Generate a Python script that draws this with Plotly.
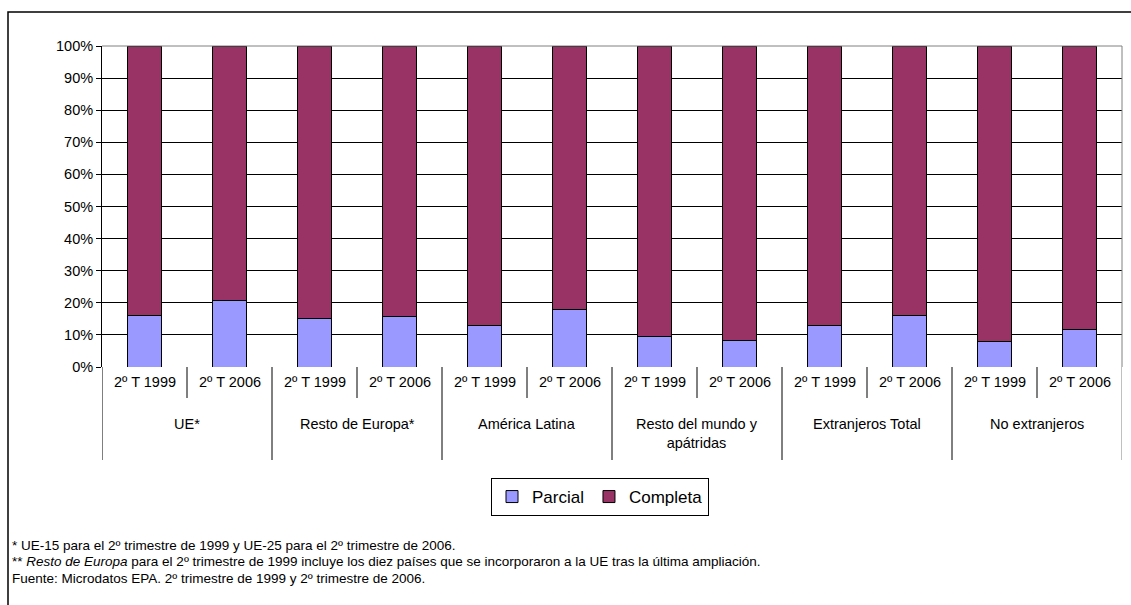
import plotly.graph_objects as go

# Data: share of part-time vs full-time employment (%)
groups = ["UE*", "Resto de Europa*", "América Latina",
          "Resto del mundo y<br>apátridas", "Extranjeros Total", "No extranjeros"]
periods = ["2º T 1999", "2º T 2006"]
parcial = [16.1, 20.7, 15.2, 15.7, 13.0, 18.0, 9.4, 8.4, 12.9, 16.1, 8.1, 11.7]
completa = [round(100 - v, 1) for v in parcial]
y_ticks = [0, 10, 20, 30, 40, 50, 60, 70, 80, 90, 100]
y_tick_text = [f"{v}%" for v in y_ticks]

footnotes = [
    "* UE-15 para el 2º trimestre de 1999 y UE-25 para el 2º trimestre de 2006.",
    "** <i>Resto de Europa</i> para el 2º trimestre de 1999 incluye los diez países que se incorporaron a la UE tras la última ampliación.",
    "Fuente: Microdatos EPA. 2º trimestre de 1999 y 2º trimestre de 2006.",
]

W, H = 1131, 605
PL, PR, PT, PB = 102, 1122, 46, 367
FONT = "Liberation Sans, Arial, sans-serif"


def px_x(x):
    return (x - PL) / (PR - PL)


def px_y(y):
    return (PB - y) / (PB - PT)


n = len(parcial)
xs = list(range(n))
sub_labels = [periods[i % 2] for i in range(n)]

fig = go.Figure()
fig.add_trace(go.Bar(x=xs, y=parcial, name="Parcial",
                     marker=dict(color="#9999FF", line=dict(color="#000000", width=1))))
fig.add_trace(go.Bar(x=xs, y=completa, name="Completa",
                     marker=dict(color="#993366", line=dict(color="#000000", width=1))))

shapes = []
# category dividers: short ones between periods, long ones between groups
for j in range(n + 1):
    xb = j - 0.5
    long_div = (j % 2 == 0)
    y_end = px_y(460) if long_div else px_y(398)
    color = "#808080" if j == n else "#000000"
    shapes.append(dict(type="line", xref="x", yref="paper", x0=xb, x1=xb,
                       y0=0, y1=y_end, line=dict(color=color, width=1)))
# plot-area border (top and right)
shapes.append(dict(type="line", xref="paper", yref="paper", x0=0, x1=1, y0=1, y1=1,
                   line=dict(color="#808080", width=1)))
shapes.append(dict(type="line", xref="paper", yref="paper", x0=1, x1=1, y0=0, y1=1,
                   line=dict(color="#808080", width=1)))
# outer chart frame
shapes.append(dict(type="rect", xref="paper", yref="paper",
                   x0=px_x(8), x1=px_x(1140), y0=px_y(12), y1=px_y(615),
                   line=dict(color="#000000", width=1.5)))

annotations = []
for i, lab in enumerate(sub_labels):
    annotations.append(dict(x=i, y=px_y(382), xref="x", yref="paper", text=lab,
                            showarrow=False, xanchor="center", yanchor="middle",
                            font=dict(family=FONT, size=14.5, color="#000000")))
for g, lab in enumerate(groups):
    annotations.append(dict(x=2 * g + 0.5, y=px_y(414), xref="x", yref="paper", text=lab,
                            showarrow=False, xanchor="center", yanchor="top",
                            font=dict(family=FONT, size=14.5, color="#000000")))
for k, txt in enumerate(footnotes):
    annotations.append(dict(x=px_x(10), y=px_y(545 + 16.5 * k), xref="paper", yref="paper",
                            text=txt, showarrow=False, xanchor="left", yanchor="middle",
                            font=dict(family=FONT, size=13.5, color="#000000")))

fig.update_layout(
    width=W, height=H,
    margin=dict(l=PL, r=W - PR, t=PT, b=H - PB, pad=0),
    paper_bgcolor="#FFFFFF", plot_bgcolor="#FFFFFF",
    barmode="stack", bargap=0.6,
    font=dict(family=FONT, size=14, color="#000000"),
    showlegend=True,
    legend=dict(orientation="h", x=px_x(600), xanchor="center", y=px_y(478), yanchor="top",
                traceorder="normal",
                bordercolor="#000000", borderwidth=1, bgcolor="#FFFFFF",
                font=dict(family=FONT, size=17, color="#000000"),
                itemwidth=30, tracegroupgap=0),
    xaxis=dict(range=[-0.5, n - 0.5], showticklabels=False, ticks="", showgrid=False,
               zeroline=False, showline=False, fixedrange=True),
    yaxis=dict(range=[0, 100], tickvals=y_ticks, ticktext=y_tick_text,
               ticks="outside", ticklen=5, tickcolor="#000000", tickwidth=1,
               showgrid=True, gridcolor="#000000", gridwidth=1,
               zeroline=False, showline=True, linecolor="#000000", linewidth=1,
               tickfont=dict(family=FONT, size=14.5, color="#000000"), fixedrange=True),
    shapes=shapes,
    annotations=annotations,
)

fig.write_html("out.html")
